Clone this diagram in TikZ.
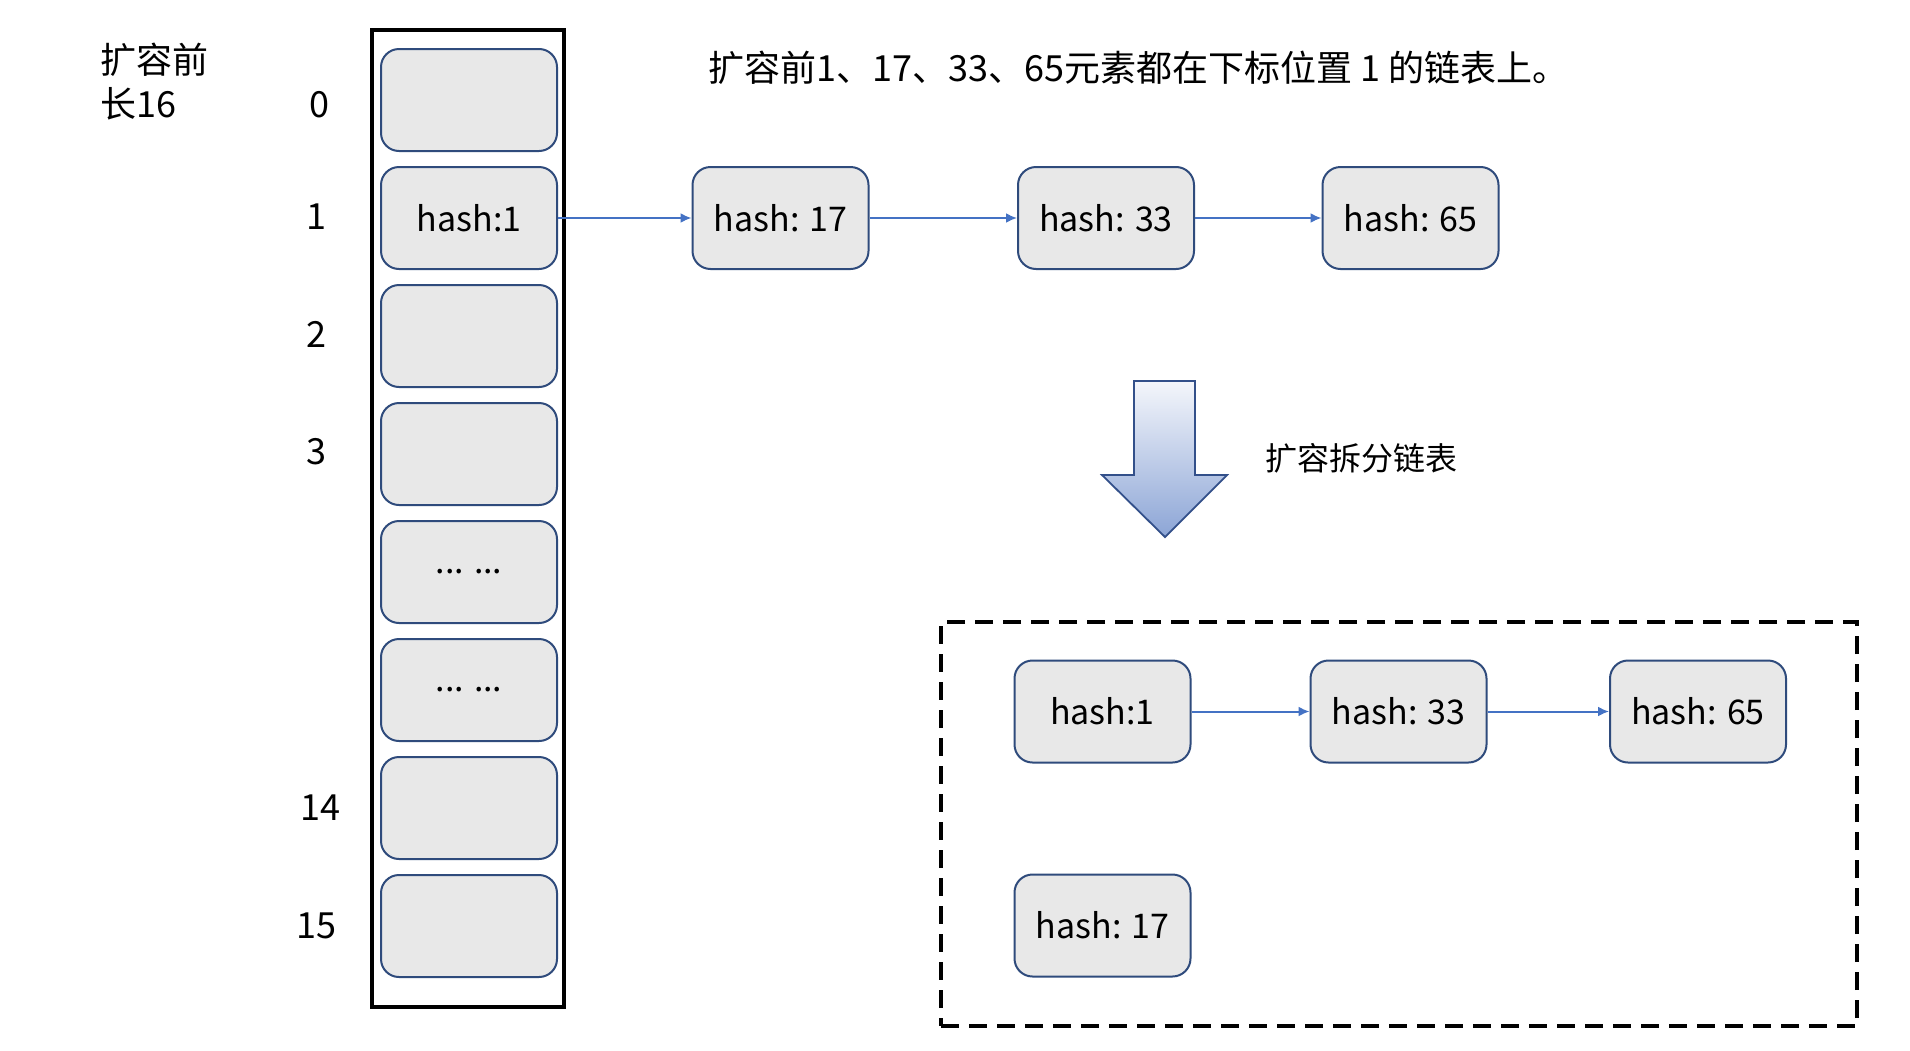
\documentclass[tikz,border=0pt]{standalone}
\usepackage{fontspec}
\setmainfont{Noto Sans CJK SC}
\usetikzlibrary{arrows.meta}
\definecolor{cellfill}{HTML}{E8E8E8}
\definecolor{celldraw}{HTML}{2F4B7C}
\definecolor{linkblue}{HTML}{4472C4}
\definecolor{arrtop}{HTML}{F4F6FB}
\definecolor{arrbot}{HTML}{8CA5D6}
\definecolor{arrdraw}{HTML}{33508A}
\tikzset{
  cell/.style={draw=celldraw, line width=1pt, fill=cellfill, rounded corners=9pt,
    minimum width=88pt, minimum height=51pt, inner sep=0pt, font=\fontsize{17}{20}\selectfont},
  idx/.style={font=\fontsize{18}{20}\selectfont, inner sep=0pt},
  link/.style={draw=linkblue, line width=1pt, -{Latex[length=5.5pt,width=5pt]}},
  txt/.style={inner sep=0pt, font=\fontsize{18}{20}\selectfont},
}
\begin{document}
\begin{tikzpicture}[x=0.5pt,y=-0.5pt]
\useasboundingbox[fill=white] (0,0) rectangle (1910,1050);

% labels top-left
\node[txt, anchor=west] (t1) at (100,60) {扩容前};
\node[txt, anchor=west] (t2) at (100,104) {长16};

% outer bucket array
\node[draw=black, line width=2pt, minimum width=96pt, minimum height=488.5pt, inner sep=0pt] (arr) at (468,518.5) {};

% cells
\node[cell] (c0) at (469,100) {};
\node[cell] (c1) at (469,218) {hash:1};
\node[cell] (c2) at (469,336) {};
\node[cell] (c3) at (469,454) {};
\node[cell] (c4) at (469,572) {... ...};
\node[cell] (c5) at (469,690) {... ...};
\node[cell] (c6) at (469,808) {};
\node[cell] (c7) at (469,926) {};

% indices
\node[idx] (i0) at (319,105) {0};
\node[idx] (i1) at (316,217) {1};
\node[idx] (i2) at (316,334) {2};
\node[idx] (i3) at (316,452) {3};
\node[idx] (i14) at (320,808) {14};
\node[idx] (i15) at (316,926) {15};

% top title
\node[txt, anchor=west] (title) at (708,68) {扩容前1、17、33、65元素都在下标位置 1 的链表上。};

% original chain
\node[cell] (h17) at (780.5,218) {hash: 17};
\node[cell] (h33) at (1106,218) {hash: 33};
\node[cell] (h65) at (1410.5,218) {hash: 65};
\draw[link] (c1.east) -- (h17.west);
\draw[link] (h17.east) -- (h33.west);
\draw[link] (h33.east) -- (h65.west);

% block arrow
\shadedraw[top color=arrtop, bottom color=arrbot, draw=arrdraw, line width=0.9pt]
  (1134,381) -- (1195,381) -- (1195,475) -- (1227,475) -- (1165,537) -- (1102,475) -- (1134,475) -- cycle;
\node[inner sep=0pt, font=\fontsize{16}{18}\selectfont, anchor=west] (split) at (1265,458) {扩容拆分链表};

% dashed box
\node[draw=black, line width=2pt, dash pattern=on 9pt off 5pt, minimum width=458pt, minimum height=202pt, inner sep=0pt] (box) at (1399,824) {};

% new chains
\node[cell] (n1) at (1102.5,711.5) {hash:1};
\node[cell] (n33) at (1398.5,711.5) {hash: 33};
\node[cell] (n65) at (1698,711.5) {hash: 65};
\node[cell] (n17) at (1102.5,925.5) {hash: 17};
\draw[link] (n1.east) -- (n33.west);
\draw[link] (n33.east) -- (n65.west);
\end{tikzpicture}
\end{document}
